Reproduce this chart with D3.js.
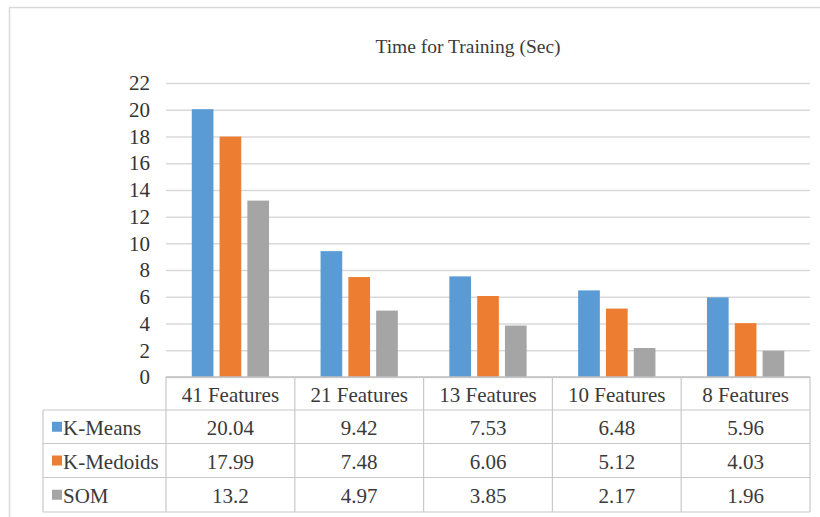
<!DOCTYPE html>
<html>
<head>
<meta charset="utf-8">
<script src="https://cdn.jsdelivr.net/npm/d3@7"></script>
<style>
  html, body { margin: 0; padding: 0; background: #fff; }
  svg { display: block; }
</style>
</head>
<body>
<svg id="chart" width="820" height="517"></svg>
<script>
// Training time (seconds) for each clustering method by feature-set size
const categories = ["41 Features", "21 Features", "13 Features", "10 Features", "8 Features"];
const seriesNames = ["K-Means", "K-Medoids", "SOM"];
const kMeans   = [20.04, 9.42, 7.53, 6.48, 5.96];
const kMedoids = [17.99, 7.48, 6.06, 5.12, 4.03];
const som      = [13.2, 4.97, 3.85, 2.17, 1.96];
const yTicks   = [0, 2, 4, 6, 8, 10, 12, 14, 16, 18, 20, 22];
const titleText = "Time for Training (Sec)";

const seriesValues = [kMeans, kMedoids, som];
const colors = ["#5B9BD5", "#ED7D31", "#A5A5A5"];

const FONT = "Liberation Serif";
const TEXT_COLOR = "#3a3a3a";

const svg = d3.select("#chart");

// chart frame
svg.append("path")
  .attr("d", "M9.5,820 V7.5 H820")
  .attr("fill", "none")
  .attr("stroke", "#d9d9d9")
  .attr("stroke-width", 1.5);

const plot = { left: 166, right: 810, top: 83, bottom: 377 };

const x0 = d3.scaleBand()
  .domain(categories)
  .range([plot.left, plot.right])
  .padding(0);

const x1 = d3.scaleBand()
  .domain(seriesNames)
  .range([x0.bandwidth() * 0.2, x0.bandwidth() * 0.8])
  .paddingInner(0.22);

const y = d3.scaleLinear()
  .domain([0, 22])
  .range([plot.bottom, plot.top]);

// title
svg.append("text")
  .attr("x", 468)
  .attr("y", 53)
  .attr("text-anchor", "middle")
  .attr("font-family", FONT)
  .attr("font-size", 19.5)
  .attr("fill", TEXT_COLOR)
  .text(titleText);

// gridlines and value axis labels
const yAxis = d3.axisLeft(y)
  .tickValues(yTicks)
  .tickSize(-(plot.right - plot.left))
  .tickPadding(16)
  .tickFormat(d3.format("d"));

const gAxis = svg.append("g")
  .attr("transform", `translate(${plot.left},0)`)
  .call(yAxis)
  .attr("font-family", FONT)
  .attr("font-size", 21);
gAxis.select(".domain").remove();
gAxis.selectAll(".tick line")
  .attr("stroke", "#d9d9d9")
  .attr("stroke-width", 1.5);
gAxis.selectAll(".tick text")
  .attr("fill", "#333");

// bars
const groups = svg.append("g").selectAll("g")
  .data(categories)
  .join("g")
  .attr("transform", d => `translate(${x0(d)},0)`);

groups.selectAll("rect")
  .data((d, i) => seriesNames.map((s, j) => ({ s, v: seriesValues[j][i], c: colors[j] })))
  .join("rect")
  .attr("x", d => x1(d.s))
  .attr("width", x1.bandwidth())
  .attr("y", d => y(d.v))
  .attr("height", d => y(0) - y(d.v))
  .attr("fill", d => d.c);

// data table below the axis
const rowTops = [377, 410, 443.5, 477.5, 512];
const tableLeft = 43;
const lineColor = "#c8c8c8";
const table = svg.append("g")
  .attr("font-family", FONT)
  .attr("font-size", 21)
  .attr("fill", TEXT_COLOR);

// horizontal rules
table.append("line")
  .attr("x1", plot.left).attr("x2", plot.right)
  .attr("y1", rowTops[0]).attr("y2", rowTops[0])
  .attr("stroke", "#bfbfbf").attr("stroke-width", 1.5);
rowTops.slice(1).forEach(yy => {
  table.append("line")
    .attr("x1", tableLeft).attr("x2", plot.right)
    .attr("y1", yy).attr("y2", yy)
    .attr("stroke", lineColor).attr("stroke-width", 1.2);
});

// vertical rules
table.append("line")
  .attr("x1", tableLeft).attr("x2", tableLeft)
  .attr("y1", rowTops[1]).attr("y2", rowTops[4])
  .attr("stroke", lineColor).attr("stroke-width", 1.2);
const colEdges = categories.map(c => x0(c)).concat([plot.right]);
colEdges.forEach(xx => {
  table.append("line")
    .attr("x1", xx).attr("x2", xx)
    .attr("y1", rowTops[0]).attr("y2", rowTops[4])
    .attr("stroke", lineColor).attr("stroke-width", 1.2);
});

// header
table.selectAll("text.cat")
  .data(categories)
  .join("text")
  .attr("class", "cat")
  .attr("x", d => x0(d) + x0.bandwidth() / 2)
  .attr("y", (rowTops[0] + rowTops[1]) / 2 + 8)
  .attr("text-anchor", "middle")
  .text(d => d);

// series rows: legend key, name, then one value per category
seriesNames.forEach((name, j) => {
  const cy = (rowTops[j + 1] + rowTops[j + 2]) / 2;
  table.append("rect")
    .attr("x", 52).attr("y", cy - 5)
    .attr("width", 10).attr("height", 10)
    .attr("fill", colors[j]);
  table.append("text")
    .attr("x", 63).attr("y", cy + 8)
    .text(name);
  table.selectAll(null)
    .data(categories)
    .join("text")
    .attr("x", d => x0(d) + x0.bandwidth() / 2)
    .attr("y", cy + 8)
    .attr("text-anchor", "middle")
    .text((d, i) => String(seriesValues[j][i]));
});
</script>
</body>
</html>
